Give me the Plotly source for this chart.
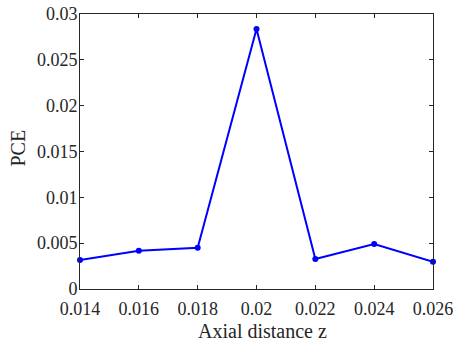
import plotly.graph_objects as go

z = [0.014, 0.016, 0.018, 0.020, 0.022, 0.024, 0.026]
pce = [0.00317, 0.00418, 0.00450, 0.02836, 0.00328, 0.00491, 0.00298]
x_ticks = [0.014, 0.016, 0.018, 0.020, 0.022, 0.024, 0.026]
x_labels = ["0.014", "0.016", "0.018", "0.02", "0.022", "0.024", "0.026"]
y_ticks = [0, 0.005, 0.01, 0.015, 0.02, 0.025, 0.03]
y_labels = ["0", "0.005", "0.01", "0.015", "0.02", "0.025", "0.03"]

FONT = "Liberation Serif, Times New Roman, serif"
TXT = "#262626"

fig = go.Figure(go.Scatter(
    x=z, y=pce, mode="lines+markers",
    line=dict(color="#0000ff", width=2),
    marker=dict(color="#0000ff", size=6),
    cliponaxis=False,
))

axis_common = dict(
    showgrid=False, zeroline=False, showline=True, linecolor=TXT, linewidth=1,
    mirror="ticks", ticks="inside", ticklen=4, tickcolor=TXT, automargin=False,
    tickfont=dict(family=FONT, size=18, color=TXT),
)
fig.update_xaxes(range=[0.014, 0.026], tickvals=x_ticks, ticktext=x_labels,
                 ticklabelstandoff=3, **axis_common)
fig.update_yaxes(range=[0, 0.03], tickvals=y_ticks, ticktext=y_labels,
                 ticklabelstandoff=-2, **axis_common)
fig.add_annotation(text="Axial distance z", xref="paper", yref="paper", x=0.5, y=0,
                   xanchor="center", yanchor="top", yshift=-29, xshift=6, showarrow=False,
                   font=dict(family=FONT, size=20, color=TXT))
fig.add_annotation(text="PCE", xref="paper", yref="paper", x=0, y=0.5, textangle=-90,
                   xanchor="right", yanchor="middle", xshift=-50, yshift=3, showarrow=False,
                   font=dict(family=FONT, size=20, color=TXT))
fig.update_layout(
    width=459, height=341, margin=dict(l=80, r=26, t=14, b=52, autoexpand=False),
    plot_bgcolor="white", paper_bgcolor="white", showlegend=False,
)
fig.write_html("out.html", config={"displayModeBar": False},
               post_script="document.body.style.margin='0';")
